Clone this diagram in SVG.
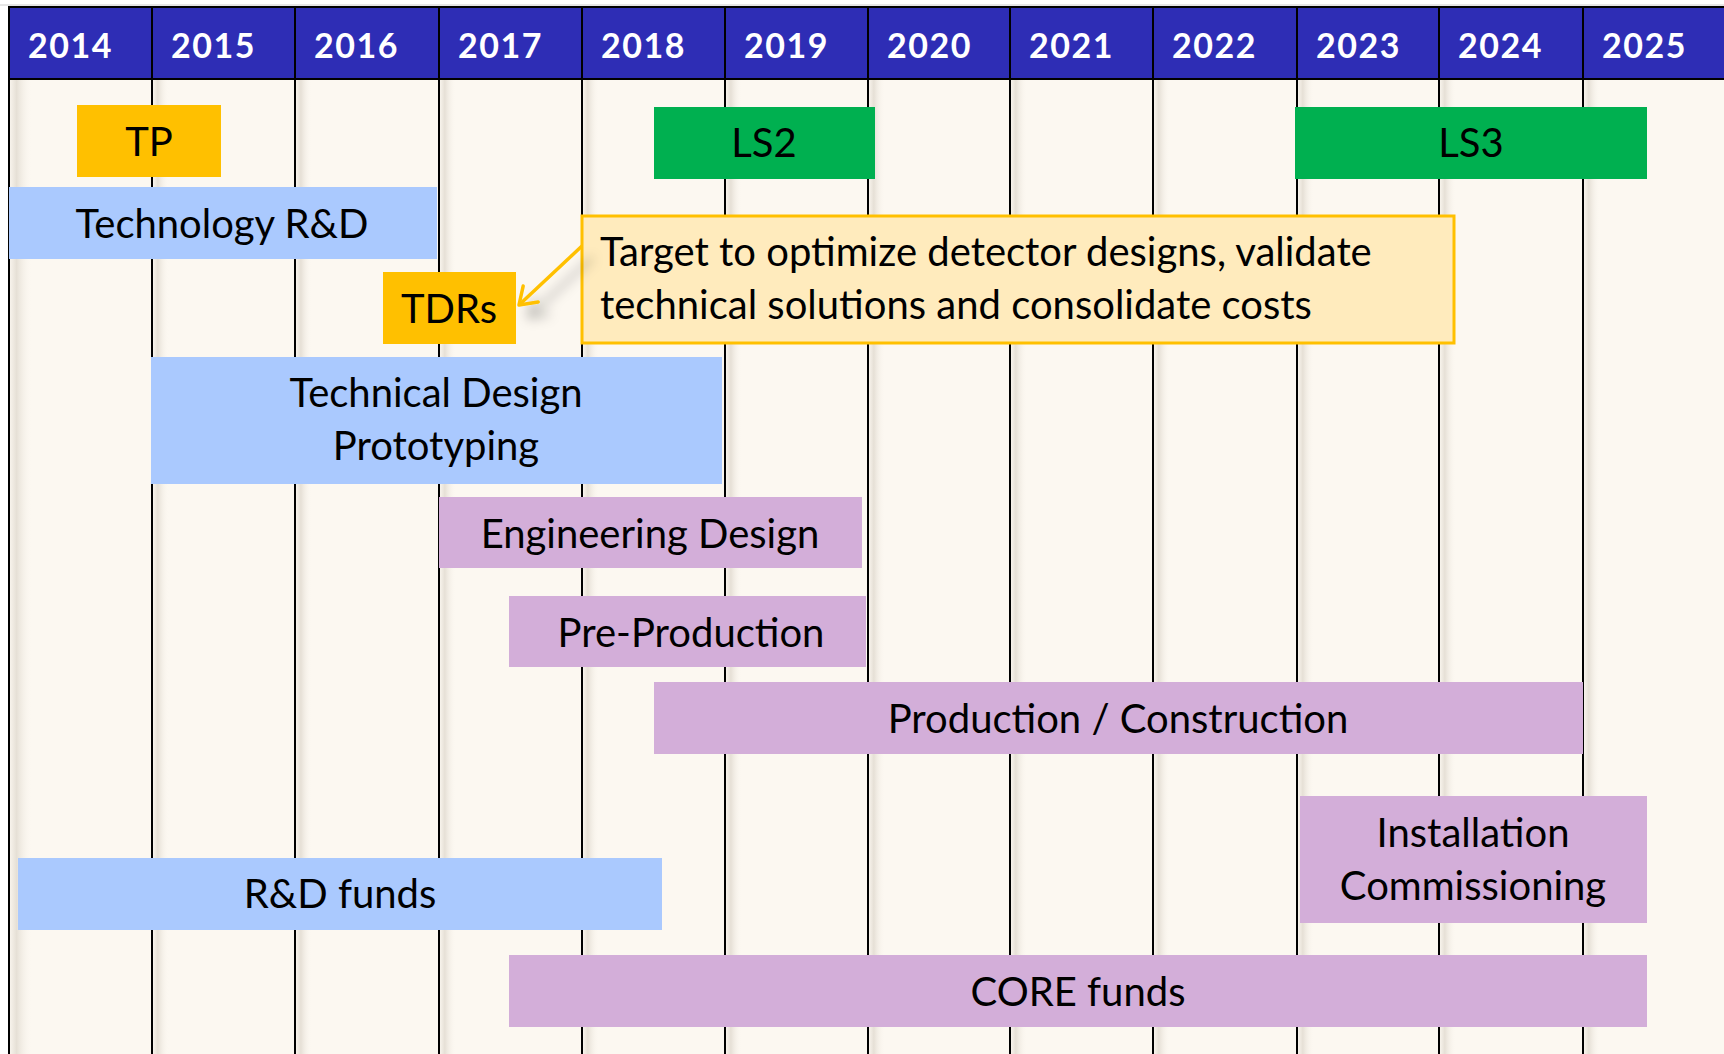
<svg xmlns="http://www.w3.org/2000/svg" width="1724" height="1054" viewBox="0 0 1724 1054">
<defs>
<style>
.yr{font-family:Lato,"Open Sans",sans-serif;font-weight:bold;font-size:34px;fill:#fff;letter-spacing:1.5px}
.lb{font-family:Lato,"Open Sans",sans-serif;font-size:40px;fill:#000;text-anchor:middle}
.cl{font-family:Lato,"Open Sans",sans-serif;font-size:40px;fill:#000}
.vl{stroke:#000;stroke-width:2}
.sh{fill:url(#shg)}
.blue{fill:#AAC9FE}
.purple{fill:#D3AED9}
.gold{fill:#FFC000}
.green{fill:#00B050}
</style>
<linearGradient id="shg" x1="0" y1="0" x2="1" y2="0">
<stop offset="0" stop-color="#E6E0D6" stop-opacity="0.2"/>
<stop offset="0.3" stop-color="#E6E0D6" stop-opacity="1"/>
<stop offset="1" stop-color="#FCF8F1" stop-opacity="0"/>
</linearGradient>
<filter id="ds" x="-50%" y="-50%" width="200%" height="200%">
<feGaussianBlur in="SourceAlpha" stdDeviation="6"/>
<feOffset dx="10" dy="12" result="b"/>
<feFlood flood-color="#000" flood-opacity="0.3"/>
<feComposite in2="b" operator="in"/>
<feMerge><feMergeNode/><feMergeNode in="SourceGraphic"/></feMerge>
</filter>
<marker id="ah" viewBox="0 0 24 24" refX="21" refY="12" markerWidth="24" markerHeight="24" markerUnits="userSpaceOnUse" orient="auto" overflow="visible">
<polyline points="5,1 21,12 5,23" fill="none" stroke="#FFC000" stroke-width="3.5" stroke-linecap="round" stroke-linejoin="round"/>
</marker>
</defs>
<rect x="0" y="0" width="1724" height="1054" fill="#fff"/>
<rect x="9" y="79" width="1715" height="975" fill="#FCF8F1"/>
<g id="grid">
<rect class="sh" x="10" y="80" width="22" height="974"/>
<rect class="sh" x="153" y="80" width="16" height="974"/>
<rect class="sh" x="296" y="80" width="16" height="974"/>
<rect class="sh" x="440" y="80" width="16" height="974"/>
<rect class="sh" x="583" y="80" width="16" height="974"/>
<rect class="sh" x="726" y="80" width="16" height="974"/>
<rect class="sh" x="869" y="80" width="16" height="974"/>
<rect class="sh" x="1011" y="80" width="16" height="974"/>
<rect class="sh" x="1154" y="80" width="16" height="974"/>
<rect class="sh" x="1298" y="80" width="16" height="974"/>
<rect class="sh" x="1440" y="80" width="16" height="974"/>
<rect class="sh" x="1584" y="80" width="16" height="974"/>
<line class="vl" x1="9" y1="79" x2="9" y2="1054"/>
<line class="vl" x1="152" y1="79" x2="152" y2="1054"/>
<line class="vl" x1="295" y1="79" x2="295" y2="1054"/>
<line class="vl" x1="439" y1="79" x2="439" y2="1054"/>
<line class="vl" x1="582" y1="79" x2="582" y2="1054"/>
<line class="vl" x1="725" y1="79" x2="725" y2="1054"/>
<line class="vl" x1="868" y1="79" x2="868" y2="1054"/>
<line class="vl" x1="1010" y1="79" x2="1010" y2="1054"/>
<line class="vl" x1="1153" y1="79" x2="1153" y2="1054"/>
<line class="vl" x1="1297" y1="79" x2="1297" y2="1054"/>
<line class="vl" x1="1439" y1="79" x2="1439" y2="1054"/>
<line class="vl" x1="1583" y1="79" x2="1583" y2="1054"/>
</g>
<g id="header">
<line x1="0" y1="5" x2="1724" y2="5" stroke="#ccc" stroke-width="1"/>
<rect x="9" y="7" width="1730" height="72" fill="#2E2DB5" stroke="#000" stroke-width="2"/>
<g class="vl">
<line x1="152" y1="7" x2="152" y2="79"/><line x1="295" y1="7" x2="295" y2="79"/><line x1="439" y1="7" x2="439" y2="79"/><line x1="582" y1="7" x2="582" y2="79"/><line x1="725" y1="7" x2="725" y2="79"/><line x1="868" y1="7" x2="868" y2="79"/><line x1="1010" y1="7" x2="1010" y2="79"/><line x1="1153" y1="7" x2="1153" y2="79"/><line x1="1297" y1="7" x2="1297" y2="79"/><line x1="1439" y1="7" x2="1439" y2="79"/><line x1="1583" y1="7" x2="1583" y2="79"/>
</g>
<text class="yr" x="28" y="58">2014</text>
<text class="yr" x="171" y="58">2015</text>
<text class="yr" x="314" y="58">2016</text>
<text class="yr" x="458" y="58">2017</text>
<text class="yr" x="601" y="58">2018</text>
<text class="yr" x="744" y="58">2019</text>
<text class="yr" x="887" y="58">2020</text>
<text class="yr" x="1029" y="58">2021</text>
<text class="yr" x="1172" y="58">2022</text>
<text class="yr" x="1316" y="58">2023</text>
<text class="yr" x="1458" y="58">2024</text>
<text class="yr" x="1602" y="58">2025</text>
</g>
<g id="tp"><rect class="gold" x="77" y="105" width="144" height="72"/><text class="lb" x="149" y="156">TP</text></g>
<g id="ls2"><rect class="green" x="654" y="107" width="221" height="72"/><text class="lb" x="764" y="157">LS2</text></g>
<g id="ls3"><rect class="green" x="1295" y="107" width="352" height="72"/><text class="lb" x="1471" y="157">LS3</text></g>
<g id="tech-rd"><rect class="blue" x="9" y="187" width="428" height="72"/><text class="lb" x="222" y="238">Technology R&amp;D</text></g>
<g id="tdrs"><rect class="gold" x="383" y="272" width="133" height="72"/><text class="lb" x="449" y="323">TDRs</text></g>
<g id="callout"><rect x="582" y="216" width="872" height="127" fill="#FFEBBD" stroke="#FFC000" stroke-width="3"/>
<text class="cl" x="600" y="266">Target to optimize detector designs, validate</text>
<text class="cl" x="600" y="319">technical solutions and consolidate costs</text></g>
<g id="tech-design"><rect class="blue" x="151" y="357" width="571" height="127"/><text class="lb" x="436" y="407">Technical Design</text><text class="lb" x="436" y="460">Prototyping</text></g>
<g id="eng-design"><rect class="purple" x="439" y="497" width="423" height="71"/><text class="lb" x="650" y="548">Engineering Design</text></g>
<g id="pre-prod"><rect class="purple" x="509" y="596" width="357" height="71"/><text class="lb" x="691" y="647">Pre-Production</text></g>
<g id="production"><rect class="purple" x="654" y="682" width="929" height="72"/><text class="lb" x="1118" y="733">Production / Construction</text></g>
<g id="installation"><rect class="purple" x="1300" y="796" width="347" height="127"/><text class="lb" x="1473" y="847">Installation</text><text class="lb" x="1473" y="900">Commissioning</text></g>
<g id="rd-funds"><rect class="blue" x="18" y="858" width="644" height="72"/><text class="lb" x="340" y="908">R&amp;D funds</text></g>
<g id="core-funds"><rect class="purple" x="509" y="955" width="1138" height="72"/><text class="lb" x="1078" y="1006">CORE funds</text></g>
<g id="connectors">
<line x1="582" y1="246" x2="519" y2="305" stroke="#FFC000" stroke-width="3.5" marker-end="url(#ah)" filter="url(#ds)"/>
</g>
</svg>
